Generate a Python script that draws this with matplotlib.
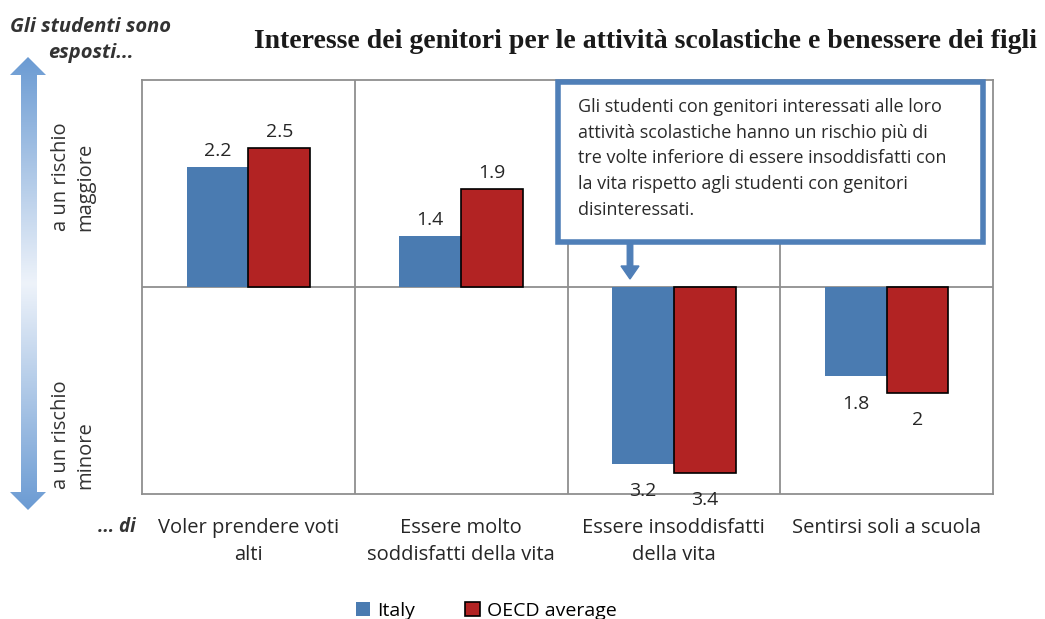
import numpy as np
import matplotlib
matplotlib.use("Agg")
import matplotlib.pyplot as plt
from matplotlib.patches import Polygon, Rectangle, FancyArrow
from matplotlib.colors import to_rgb

# dati (odds ratio, mostrati in scala logaritmica)
categorie = ["Voler prendere voti\nalti", "Essere molto\nsoddisfatti della vita",
             "Essere insoddisfatti\ndella vita", "Sentirsi soli a scuola"]
italia = [2.2, 1.4, 3.2, 1.8]
ocse = [2.5, 1.9, 3.4, 2.0]
direzione = [1, 1, -1, -1]  # +1 rischio maggiore, -1 rischio minore
etichette_it = ["2.2", "1.4", "3.2", "1.8"]
etichette_ocse = ["2.5", "1.9", "3.4", "2"]

blu = "#4a7bb1"
rosso = "#b22323"
grigio = "#8f8f8f"
testo = "#262626"
font = ["Open Sans", "DejaVu Sans"]

fig = plt.figure(figsize=(10.45, 6.19), dpi=100)

# sfondo per le decorazioni, in pixel
bg = fig.add_axes([0, 0, 1, 1])
bg.set_xlim(0, 1045)
bg.set_ylim(619, 0)
bg.axis("off")

ax = fig.add_axes([142 / 1045, 1 - 494 / 619, 851 / 1045, 414 / 619])
x = np.arange(len(categorie))
w = 0.29
h_it = [d * np.log(v) for d, v in zip(direzione, italia)]
h_oc = [d * np.log(v) for d, v in zip(direzione, ocse)]
ax.bar(x - w / 2, h_it, w, color=blu, label="Italy", zorder=3)
ax.bar(x + w / 2, h_oc, w, color=rosso, edgecolor="black", linewidth=1.2,
       label="OECD average", zorder=3)

ax.set_xlim(-0.5, 3.5)
ax.set_ylim(-1.36, 1.36)
ax.axhline(0, color=grigio, lw=1.3, zorder=2)
for b in [0.5, 1.5, 2.5]:
    ax.axvline(b, color=grigio, lw=1.3, zorder=2)
for s in ax.spines.values():
    s.set_color(grigio)
    s.set_linewidth(1.3)
ax.set_xticks([])
ax.set_yticks([])

# etichette dei valori
for i in range(len(categorie)):
    for xx, h, lab in [(x[i] - w / 2, h_it[i], etichette_it[i]),
                       (x[i] + w / 2, h_oc[i], etichette_ocse[i])]:
        if h > 0:
            ax.annotate(lab, (xx, h), xytext=(0, 5), textcoords="offset points",
                        ha="center", va="bottom", fontsize=14, color=testo, family=font)
        else:
            ax.annotate(lab, (xx, h), xytext=(0, -13), textcoords="offset points",
                        ha="center", va="top", fontsize=14, color=testo, family=font)

# categorie sotto il grafico
for i, c in enumerate(categorie):
    ax.annotate(c, (x[i], 0), xycoords=("data", "axes fraction"), xytext=(0, -17),
                textcoords="offset points", ha="center", va="top", fontsize=14.5,
                color=testo, family=font, linespacing=1.5)

# titolo
fig.text(646 / 1045, 1 - 41 / 619,
         "Interesse dei genitori per le attività scolastiche e benessere dei figli",
         ha="center", va="center", fontsize=20, fontweight="bold",
         family=["Liberation Serif", "DejaVu Serif"], color="#1a1a1a")

# testi a sinistra
bg.text(91, 40, "Gli studenti sono\nesposti...", ha="center", va="center",
        fontsize=14.5, fontweight="bold", style="italic", color="#333333",
        family=font, linespacing=1.35)
bg.text(117, 527, "... di", ha="center", va="center", fontsize=13.5,
        fontweight="bold", style="italic", color="#333333", family=font)
bg.text(73, 231, "a un rischio\nmaggiore", rotation=90, ha="center", va="bottom",
        multialignment="left", fontsize=14.5, color="#333333", family=font,
        linespacing=1.3)
bg.text(73, 489, "a un rischio\nminore", rotation=90, ha="center", va="bottom",
        multialignment="left", fontsize=14.5, color="#333333", family=font,
        linespacing=1.3)

# freccia doppia sfumata
freccia = Polygon([(28, 57), (46, 75), (37, 75), (37, 492), (46, 492), (28, 510),
                   (10, 492), (21, 492), (21, 75), (10, 75)], closed=True,
                  facecolor="none", edgecolor="none")
bg.add_patch(freccia)
yy = np.linspace(0, 1, 200)
t = np.abs(yy - 0.5) * 2
c_end = np.array(to_rgb("#6b9bd3"))
c_mid = np.array(to_rgb("#eef3fa"))
grad = (c_mid[None, :] * (1 - t[:, None]) + c_end[None, :] * t[:, None])
grad = np.repeat(grad[:, None, :], 2, axis=1)
im = bg.imshow(grad, extent=(10, 46, 510, 57), aspect="auto", zorder=1)
im.set_clip_path(freccia)
bg.set_xlim(0, 1045)
bg.set_ylim(619, 0)

# riquadro con il commento (sopra il grafico)
top = fig.add_axes([0, 0, 1, 1])
top.set_xlim(0, 1045)
top.set_ylim(619, 0)
top.axis("off")
top.add_patch(Rectangle((558, 82), 425, 160, facecolor="white", edgecolor="#4f7fb8",
                        linewidth=4, zorder=5))
top.text(578, 98, "Gli studenti con genitori interessati alle loro\n"
         "attività scolastiche hanno un rischio più di\n"
         "tre volte inferiore di essere insoddisfatti con\n"
         "la vita rispetto agli studenti con genitori\n"
         "disinteressati.", ha="left", va="top", fontsize=13, color="#2a2a2a",
         family=font, linespacing=1.55, zorder=6)
top.add_patch(FancyArrow(630, 244, 0, 35, width=5.5, head_width=18, head_length=13,
                         length_includes_head=True, color="#4f7fb8", zorder=5))

# legenda
h, l = ax.get_legend_handles_labels()
fig.legend(h, l, loc="center", bbox_to_anchor=(486 / 1045, 1 - 611 / 619), ncol=2,
           frameon=False, prop={"family": font, "size": 14}, handlelength=0.75,
           handleheight=0.75, handletextpad=0.35, columnspacing=2.6)

fig.savefig("out.png", dpi=100)
